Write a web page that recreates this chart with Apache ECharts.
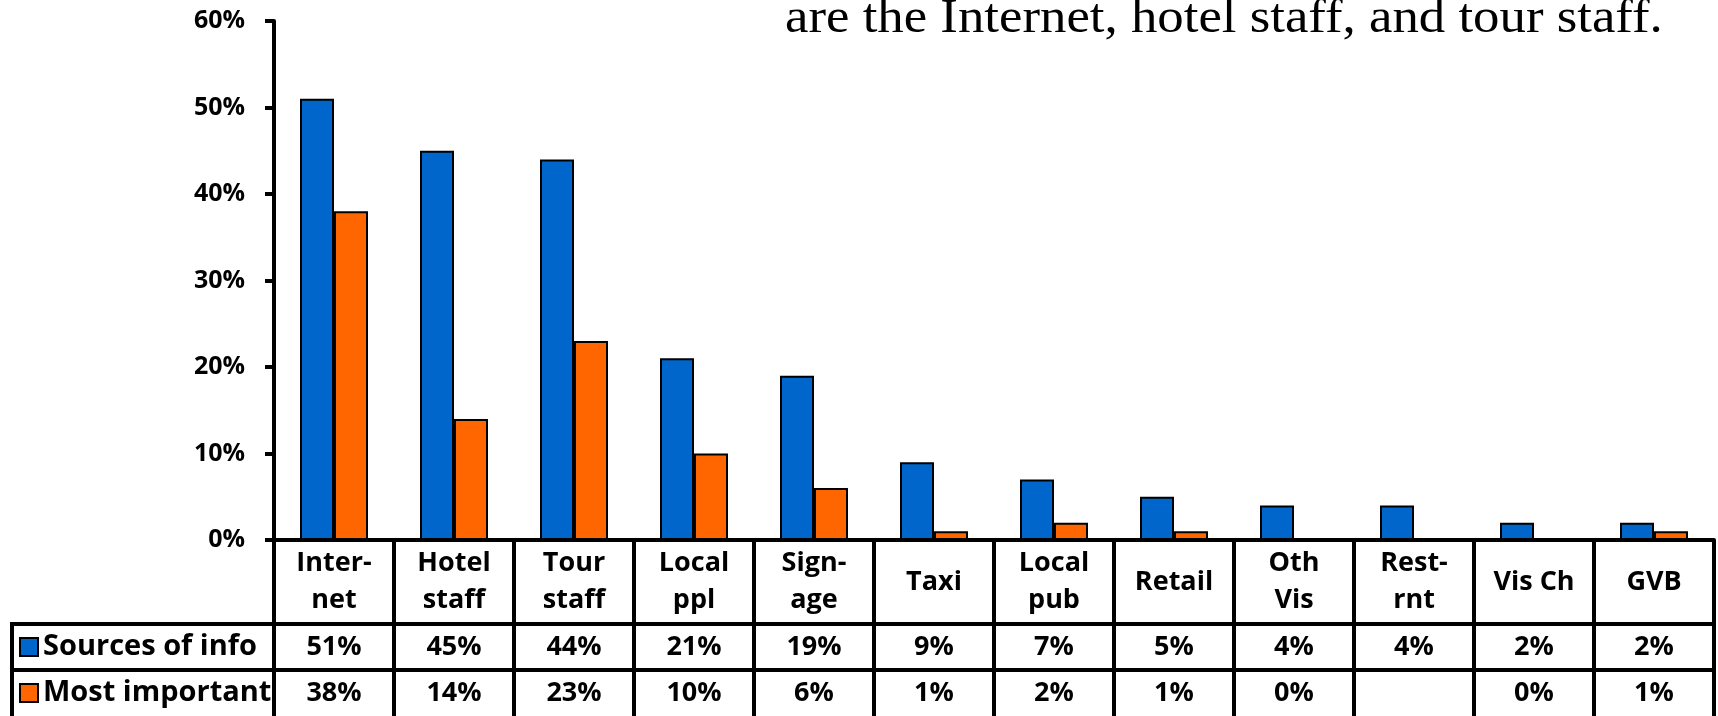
<!DOCTYPE html>
<html>
<head>
<meta charset="utf-8">
<script src="https://cdn.jsdelivr.net/npm/echarts@6/dist/echarts.min.js"></script>
<style>
  html, body { margin: 0; padding: 0; background: #fff; }
  #chart { width: 1718px; height: 716px; }
</style>
</head>
<body>
<div id="chart"></div>
<script>
const categories = ['Inter-\nnet', 'Hotel\nstaff', 'Tour\nstaff', 'Local\nppl', 'Sign-\nage', 'Taxi', 'Local\npub', 'Retail', 'Oth\nVis', 'Rest-\nrnt', 'Vis Ch', 'GVB'];
const sourcesOfInfo = [51, 45, 44, 21, 19, 9, 7, 5, 4, 4, 2, 2];
const mostImportant = [38, 14, 23, 10, 6, 1, 2, 1, 0, null, 0, 1];
const seriesNames = ['Sources of info', 'Most important'];
const yMin = 0, yMax = 60, yStep = 10;
const headline = 'are the Internet, hotel staff, and tour staff.';

const FONT = "'Open Sans', Lato, sans-serif";
const BLUE = '#0066CC';
const ORANGE = '#FF6600';
const LINE_W = 4;

const fmt = v => (v === null || v === undefined) ? '' : v + '%';

const chart = echarts.init(document.getElementById('chart'), null, { renderer: 'canvas' });

const cellLabel = (margin) => ({
  interval: 0,
  margin: margin,
  verticalAlign: 'middle',
  fontFamily: FONT,
  fontWeight: 'bold',
  fontSize: 27,
  color: '#000'
});

const legendCommon = {
  orient: 'vertical',
  left: 19,
  padding: 0,
  icon: 'rect',
  itemWidth: 18,
  itemHeight: 18,
  selectedMode: false,
  textStyle: { fontFamily: FONT, fontWeight: 'bold', fontSize: 29, color: '#000', lineHeight: 30 }
};

const option = {
  animation: false,
  backgroundColor: '#fff',
  grid: { left: 274, right: 4, top: 21, bottom: 176, containLabel: false },
  legend: [
    Object.assign({}, legendCommon, { top: 632, data: [{ name: seriesNames[0], itemStyle: { borderColor: '#000', borderWidth: 2 } }] }),
    Object.assign({}, legendCommon, { top: 678, data: [{ name: seriesNames[1], itemStyle: { borderColor: '#000', borderWidth: 2 } }] })
  ],
  xAxis: [
    {
      type: 'category', data: categories, position: 'bottom', boundaryGap: true,
      axisLine: { show: true, lineStyle: { color: '#000', width: LINE_W } },
      axisTick: { show: true, interval: 0, length: 176, lineStyle: { color: '#000', width: LINE_W } },
      axisLabel: Object.assign(cellLabel(42), { lineHeight: 37 }),
      splitLine: { show: false }
    },
    {
      type: 'category', data: sourcesOfInfo.map(fmt), position: 'bottom', offset: 84,
      axisLine: { show: true, lineStyle: { color: '#000', width: LINE_W } },
      axisTick: { show: false },
      axisLabel: cellLabel(23),
      splitLine: { show: false }
    },
    {
      type: 'category', data: mostImportant.map(fmt), position: 'bottom', offset: 130,
      axisLine: { show: true, lineStyle: { color: '#000', width: LINE_W } },
      axisTick: { show: false },
      axisLabel: cellLabel(23),
      splitLine: { show: false }
    }
  ],
  yAxis: {
    type: 'value', min: yMin, max: yMax, interval: yStep,
    axisLine: { show: true, lineStyle: { color: '#000', width: LINE_W } },
    axisTick: { show: true, length: 9, lineStyle: { color: '#000', width: LINE_W } },
    axisLabel: { formatter: '{value}%', margin: 29, fontFamily: FONT, fontWeight: 'bold', fontSize: 25, color: '#000' },
    splitLine: { show: false }
  },
  series: [
    {
      name: seriesNames[0], type: 'bar', data: sourcesOfInfo, barWidth: 34, barGap: '0%',
      itemStyle: { color: BLUE, borderColor: '#000', borderWidth: 2 }
    },
    {
      name: seriesNames[1], type: 'bar', data: mostImportant, barWidth: 34, barGap: '0%',
      itemStyle: { color: ORANGE, borderColor: '#000', borderWidth: 2 }
    }
  ],
  graphic: [
    { type: 'line', shape: { x1: 12, y1: 624, x2: 274, y2: 624 }, style: { stroke: '#000', lineWidth: LINE_W } },
    { type: 'line', shape: { x1: 12, y1: 670, x2: 274, y2: 670 }, style: { stroke: '#000', lineWidth: LINE_W } },
    { type: 'line', shape: { x1: 12, y1: 622, x2: 12, y2: 716 }, style: { stroke: '#000', lineWidth: LINE_W } },
    {
      type: 'text', x: 785, y: -5, scaleX: 1.1, scaleY: 1,
      style: { text: headline, x: 0, y: 0, fontFamily: 'Liberation Serif', fontSize: 48, fontWeight: 'normal', fill: '#000', align: 'left', verticalAlign: 'top' }
    }
  ]
};

chart.setOption(option);
</script>
</body>
</html>
